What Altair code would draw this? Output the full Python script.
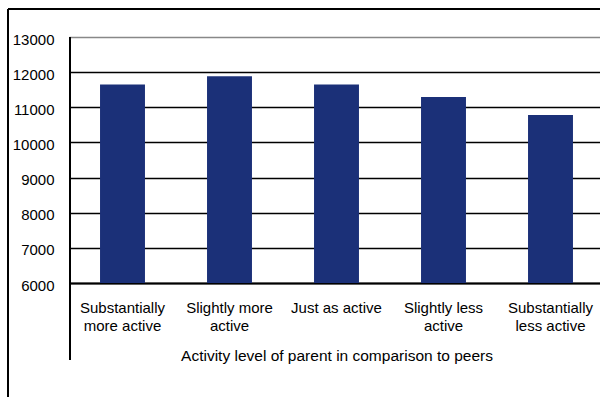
import altair as alt
import pandas as pd

# Activity level categories (line breaks mark the two-line axis labels)
categories = [
    "Substantially\nmore active",
    "Slightly more\nactive",
    "Just as active",
    "Slightly less\nactive",
    "Substantially\nless active",
]
values = [11650, 11880, 11650, 11290, 10780]
y_ticks = [6000, 7000, 8000, 9000, 10000, 11000, 12000, 13000]
y_floor = 6000

df = pd.DataFrame({"level": categories, "value": values})
one_row = alt.Data(values=[{}])

FONT = "Liberation Sans"
NAVY = "#1b3078"

bars = alt.Chart(df).mark_bar(color=NAVY).encode(
    x=alt.X(
        "level:N",
        sort=categories,
        title="Activity level of parent in comparison to peers",
        scale=alt.Scale(range=[-1, 534], paddingInner=0.58, paddingOuter=0.29),
        axis=alt.Axis(
            labelAngle=0,
            labelExpr="split(datum.label, '\\n')",
            labelLineHeight=18,
            labelPadding=17,
            labelFontSize=15,
            ticks=False,
            domainColor="black",
            domainWidth=2,
            titleFontSize=15.5,
            titleFontWeight="normal",
            titleBaseline="alphabetic",
            titleY=77,
            labelLimit=200,
        ),
    ),
    y=alt.Y(
        "value:Q",
        scale=alt.Scale(domain=[6000, 13000], nice=False, zero=False),
        axis=alt.Axis(
            values=y_ticks,
            format="d",
            title=None,
            ticks=False,
            domain=False,
            gridColor=alt.expr("datum.value == 13000 ? '#888888' : '#000000'"),
            gridWidth=1.5,
            labelPadding=16,
            labelFontSize=15,
            labelOffset=2,
        ),
    ),
    y2=alt.datum(y_floor),
)

# Vertical axis line, running down past the category labels
y_axis_line = alt.Chart(one_row).mark_rule(color="black", strokeWidth=2).encode(
    x=alt.value(0), y=alt.value(0), y2=alt.value(323)
)

# Outer chart frame (left and top edges)
frame_left = alt.Chart(one_row).mark_rule(color="black", strokeWidth=2).encode(
    x=alt.value(-62), y=alt.value(-28), y2=alt.value(380)
)
frame_top = alt.Chart(one_row).mark_rule(color="black", strokeWidth=2).encode(
    x=alt.value(-62), x2=alt.value(540), y=alt.value(-28)
)

chart = (
    alt.layer(bars, y_axis_line, frame_left, frame_top)
    .properties(
        width=530,
        height=246,
        autosize=alt.AutoSizeParams(type="none"),
        padding={"left": 70, "top": 37, "right": 0, "bottom": 114},
        background="white",
    )
    .configure_view(stroke=None)
    .configure_axis(
        labelFont=FONT,
        titleFont=FONT,
        labelColor="black",
        titleColor="black",
    )
)

chart.save("out.html", embed_options={"renderer": "svg", "actions": False})
